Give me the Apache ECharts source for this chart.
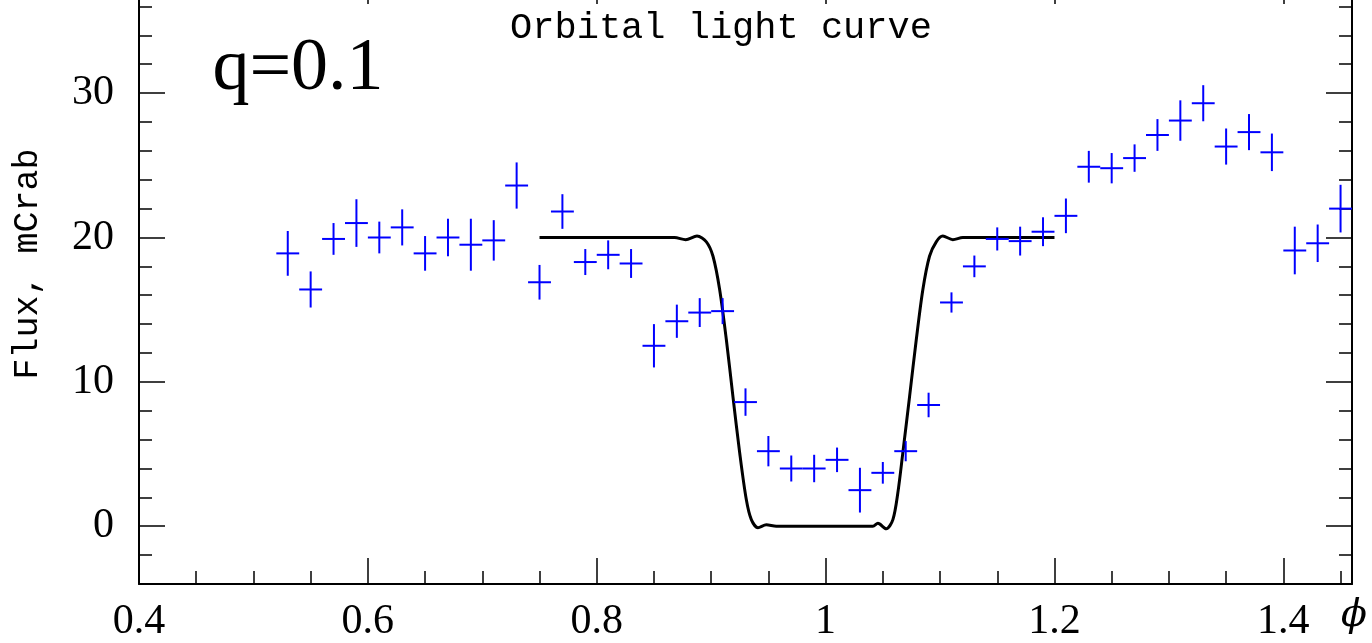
<!DOCTYPE html>
<html>
<head>
<meta charset="utf-8">
<script src="https://cdn.jsdelivr.net/npm/echarts@6/dist/echarts.min.js"></script>
<style>
html,body{margin:0;padding:0;background:#fff;}
#chart{width:1372px;height:643px;}
</style>
</head>
<body>
<div id="chart"></div>
<script>
// ---- data ----
const phase = [0.53,0.55,0.57,0.59,0.61,0.63,0.65,0.67,0.69,0.71,0.73,0.75,0.77,0.79,0.81,0.83,0.85,0.87,0.89,0.91,0.93,0.95,0.97,0.99,1.01,1.03,1.05,1.07,1.09,1.11,1.13,1.15,1.17,1.19,1.21,1.23,1.25,1.27,1.29,1.31,1.33,1.35,1.37,1.39,1.41,1.43,1.45];
const flux = [18.9,16.4,19.9,21.0,20.0,20.7,18.9,20.0,19.5,19.8,23.6,16.9,21.8,18.3,18.8,18.2,12.5,14.2,14.8,14.9,8.6,5.2,4.0,4.0,4.6,2.5,3.7,5.2,8.4,15.5,18.0,19.9,19.75,20.4,21.5,24.9,24.8,25.5,27.1,28.1,29.3,26.3,27.3,25.9,19.1,19.6,22.0];
const fluxErr = [1.55,1.25,1.1,1.65,1.1,1.25,1.2,1.3,1.8,1.4,1.6,1.2,1.2,0.9,1.0,1.0,1.5,1.15,1.0,0.9,0.95,1.05,0.9,0.95,0.85,1.55,0.75,0.7,0.85,0.7,0.75,0.8,1.0,1.0,1.2,1.1,1.05,0.95,1.1,1.4,1.25,1.25,1.25,1.3,1.65,1.3,1.65];
const phaseHalfWidth = 0.01;

const modelPhase = [0.75,0.868,0.8777,0.8876,0.8958,0.9016,0.9074,0.9133,0.919,0.9249,0.9307,0.9351,0.9409,0.9482,0.9569,1.0413,1.0457,1.053,1.0588,1.0631,1.0675,1.0734,1.0792,1.085,1.0908,1.0967,1.1024,1.1112,1.1199,1.2];
const modelFlux  = [20.0,20.0,19.85,20.1,19.7,18.7,16.4,12.9,9.0,5.1,1.85,0.46,-0.1,0.1,0.0,0.0,0.2,-0.18,0.46,2.3,5.1,9.0,12.9,16.4,18.7,19.7,20.1,19.85,20.0,20.0];

const xMajorTicks = [0.4,0.6,0.8,1.0,1.2,1.4];
const xMinorTicks = [0.45,0.5,0.55,0.65,0.7,0.75,0.85,0.9,0.95,1.05,1.1,1.15,1.25,1.3,1.35,1.45];
const yMajorTicks = [0,10,20,30];
const yMinorTicks = [-2,2,4,6,8,12,14,16,18,22,24,26,28,32,34,36];

const titleText = 'Orbital light curve';
const yName = 'Flux, mCrab';
const xName = 'ϕ';
const annotation = 'q=0.1';

// ---- chart ----
const chart = echarts.init(document.getElementById('chart'), null, {renderer:'canvas'});
const X_MIN = 0.4, X_MAX = 1.46, Y_MIN = -4, Y_MAX = 36.45;
const black = '#000';
const tickFont = {fontFamily:'Liberation Serif', fontSize:42, color:black};

function xAx(pos, ticks, len, line, labels){
  return {type:'value', position:pos, min:X_MIN, max:X_MAX, gridIndex:0,
    splitLine:{show:false},
    axisLine:{show:line, onZero:false, lineStyle:{color:black, width:2}},
    axisTick:{show:true, inside:true, length:len, customValues:ticks, lineStyle:{color:black, width:1.5}},
    axisLabel: labels ? Object.assign({show:true, customValues:ticks, margin:17,
        formatter:v=>String(+v.toFixed(2))}, tickFont) : {show:false}
  };
}
function yAx(pos, ticks, len, line, labels){
  return {type:'value', position:pos, min:Y_MIN, max:Y_MAX, gridIndex:0,
    splitLine:{show:false},
    axisLine:{show:line, onZero:false, lineStyle:{color:black, width:2}},
    axisTick:{show:true, inside:true, length:len, customValues:ticks, lineStyle:{color:black, width:1.5}},
    axisLabel: labels ? Object.assign({show:true, customValues:ticks, margin:25,
        formatter:v=>String(v)}, tickFont) : {show:false}
  };
}

const option = {
  backgroundColor:'#fff',
  animation:false,
  grid:{left:139, right:20, top:0, bottom:59, containLabel:false},
  xAxis:[
    xAx('bottom', xMajorTicks, 26, true, true),
    xAx('top', xMajorTicks, 4, false, false),
    xAx('bottom', xMinorTicks, 13, false, false)
  ],
  yAxis:[
    yAx('left', yMajorTicks, 26, true, true),
    yAx('right', yMajorTicks, 26, true, false),
    yAx('left', yMinorTicks, 13, false, false),
    yAx('right', yMinorTicks, 13, false, false)
  ],
  series:[
    {
      type:'line', xAxisIndex:0, yAxisIndex:0,
      data: modelPhase.map((p,i)=>[p, modelFlux[i]]),
      showSymbol:false, smooth:0.3,
      lineStyle:{color:black, width:3},
      z:2
    },
    {
      type:'custom', xAxisIndex:0, yAxisIndex:0,
      data: phase.map((p,i)=>[p, flux[i], fluxErr[i]]),
      clip:false,
      renderItem:function(params, api){
        const x = api.value(0), y = api.value(1), e = api.value(2);
        const l = api.coord([x - phaseHalfWidth, y]);
        const r = api.coord([x + phaseHalfWidth, y]);
        const t = api.coord([x, y + e]);
        const b = api.coord([x, y - e]);
        const st = {stroke:'#0000ff', lineWidth:2};
        return {type:'group', children:[
          {type:'line', shape:{x1:l[0], y1:l[1], x2:r[0], y2:r[1]}, style:st},
          {type:'line', shape:{x1:t[0], y1:t[1], x2:b[0], y2:b[1]}, style:st}
        ]};
      },
      z:3
    }
  ],
  graphic:[
    {type:'text', x:721, y:28, style:{text:titleText, fontFamily:'Liberation Mono', fontSize:37, fill:black, align:'center', verticalAlign:'middle'}},
    {type:'text', x:298, y:70, style:{text:annotation, fontFamily:'Liberation Serif', fontSize:74, fill:black, align:'center', verticalAlign:'middle'}},
    {type:'text', x:28, y:264, rotation:Math.PI/2, style:{text:yName, fontFamily:'Liberation Mono', fontSize:35, fill:black, align:'center', verticalAlign:'middle'}},
    {type:'text', x:1354, y:616, style:{text:xName, fontFamily:'DejaVu Serif', fontStyle:'italic', fontSize:38, fill:black, align:'center', verticalAlign:'middle'}}
  ]
};
chart.setOption(option);
</script>
</body>
</html>
